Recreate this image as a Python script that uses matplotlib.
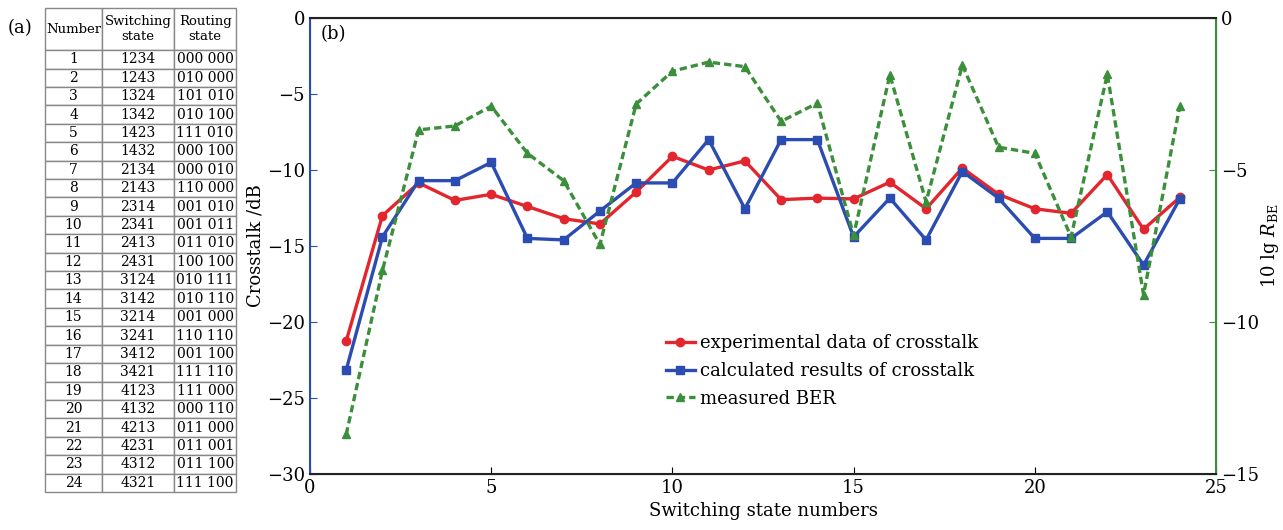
import matplotlib
matplotlib.use('Agg')
import matplotlib.pyplot as plt
import numpy as np

plt.rcParams['font.family'] = ['DejaVu Serif']
plt.rcParams['mathtext.fontset'] = 'dejavuserif'

# data
numbers = list(range(1, 25))
switching = ['1234', '1243', '1324', '1342', '1423', '1432', '2134', '2143',
             '2314', '2341', '2413', '2431', '3124', '3142', '3214', '3241',
             '3412', '3421', '4123', '4132', '4213', '4231', '4312', '4321']
routing = ['000 000', '010 000', '101 010', '010 100', '111 010', '000 100',
           '000 010', '110 000', '001 010', '001 011', '011 010', '100 100',
           '010 111', '010 110', '001 000', '110 110', '001 100', '111 110',
           '111 000', '000 110', '011 000', '011 001', '011 100', '111 100']

exp_xt = [-21.25, -13.0, -10.85, -12.0, -11.6, -12.4, -13.2, -13.55,
          -11.45, -9.1, -10.0, -9.4, -11.95, -11.85, -11.9, -10.8,
          -12.55, -9.87, -11.6, -12.55, -12.85, -10.3, -13.9, -11.8]
calc_xt = [-23.15, -14.4, -10.7, -10.7, -9.5, -14.5, -14.6, -12.7,
           -10.85, -10.85, -8.0, -12.55, -8.0, -8.0, -14.4, -11.85,
           -14.6, -10.1, -11.85, -14.5, -14.5, -12.75, -16.25, -11.9]
ber = [-13.7, -8.3, -3.68, -3.55, -2.9, -4.45, -5.35, -7.45,
       -2.83, -1.75, -1.45, -1.6, -3.4, -2.8, -7.15, -1.87,
       -6.05, -1.55, -4.25, -4.45, -7.2, -1.85, -9.1, -2.9]

red = '#e3262d'
blue = '#2b4cb0'
green = '#3b8f3b'

fig = plt.figure(figsize=(12.83, 5.3), dpi=100)

# (a) table
tax = fig.add_axes([0.0351, 0.0717, 0.149, 0.913])
tax.axis('off')
cells = [[str(n), s, r] for n, s, r in zip(numbers, switching, routing)]
tbl = tax.table(cellText=cells,
                colLabels=['Number', 'Switching\nstate', 'Routing\nstate'],
                cellLoc='center', bbox=[0, 0, 1, 1])
tbl.auto_set_font_size(False)
colw = [57, 72, 62]
for (r, c), cell in tbl.get_celld().items():
    cell.set_width(colw[c])
    cell.set_height(42 if r == 0 else 18.4)
    cell.set_edgecolor('#888888')
    cell.set_linewidth(1.0)
    cell.get_text().set_fontsize(9.5 if r == 0 else 10)
fig.text(0.006, 0.938, '(a)', fontsize=13)

# (b) chart
ax = fig.add_axes([0.2416, 0.1057, 0.7062, 0.8603])
ax.plot(numbers, exp_xt, '-o', color=red, lw=2.4, ms=6,
        label='experimental data of crosstalk')
ax.plot(numbers, calc_xt, '-s', color=blue, lw=2.4, ms=6,
        label='calculated results of crosstalk')
ax2 = ax.twinx()
ax2.plot(numbers, ber, '--^', color=green, lw=2.4, ms=6, dashes=(2.2, 1.2))
ax.plot([], [], '--^', color=green, lw=2.4, ms=6, dashes=(2.2, 1.2),
        label='measured BER')

ax.set_xlim(0, 25)
ax.set_ylim(-30, 0)
ax2.set_ylim(-15, 0)
ax.set_xticks([0, 5, 10, 15, 20, 25])
ax.set_yticks([0, -5, -10, -15, -20, -25, -30])
ax2.set_yticks([0, -5, -10, -15])
ax.tick_params(direction='in', labelsize=13, length=5)
ax2.tick_params(direction='in', labelsize=13, length=5)

ax.spines['left'].set_color(blue)
ax2.spines['left'].set_color(blue)
ax2.spines['right'].set_color(green)
ax.tick_params(axis='y', colors=blue, labelcolor='black')
ax2.tick_params(axis='y', colors=green, labelcolor='black')
for sp in ['top', 'bottom']:
    ax2.spines[sp].set_color('#222222')
    ax2.spines[sp].set_linewidth(1.5)
ax2.spines['left'].set_linewidth(1.5)
ax2.spines['right'].set_linewidth(1.5)

ax.set_xlabel('Switching state numbers', fontsize=13)
ax.set_ylabel('Crosstalk /dB', fontsize=13, labelpad=2)
ax2.set_ylabel(r'10 lg $R_{\rm BE}$', fontsize=13, labelpad=0)

ax.text(0.012, 0.985, '(b)', transform=ax.transAxes, fontsize=13, va='top')

ax.legend(loc='upper left', bbox_to_anchor=(0.385, 0.323), frameon=False,
          fontsize=13, handlelength=1.6, handletextpad=0.3, labelspacing=0.55,
          borderaxespad=0)

fig.savefig('out.png', dpi=100)
